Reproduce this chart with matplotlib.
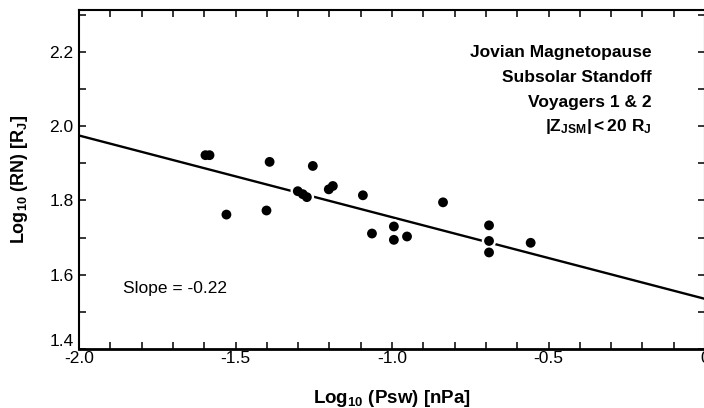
import matplotlib
matplotlib.use("Agg")
import matplotlib.pyplot as plt
from matplotlib.ticker import MultipleLocator, FixedLocator
import numpy as np

# ---- data ----
log_psw = [-1.596, -1.583, -1.529, -1.391, -1.401, -1.253, -1.301, -1.285, -1.272,
           -1.202, -1.189, -1.093, -1.064, -0.994, -0.994, -0.952, -0.837,
           -0.690, -0.690, -0.690, -0.557]
log_rn = [1.922, 1.922, 1.762, 1.904, 1.773, 1.893, 1.825, 1.817, 1.809,
          1.830, 1.839, 1.814, 1.711, 1.730, 1.694, 1.703, 1.795,
          1.733, 1.691, 1.660, 1.686]
fit_slope = -0.22
fit_intercept = 1.535
x_ticks = [-2.0, -1.5, -1.0, -0.5, 0.0]
x_ticklabels = ["-2.0", "-1.5", "-1.0", "-0.5", "0"]
y_ticks = [1.4, 1.6, 1.8, 2.0, 2.2]
y_ticklabels = ["1.4", "1.6", "1.8", "2.0", "2.2"]
title_lines = ["Jovian Magnetopause", "Subsolar Standoff", "Voyagers 1 & 2",
               r"$\mathbf{|Z_{JSM}|< 20\ R_J}$"]
slope_text = "Slope = -0.22"

plt.rcParams['font.family'] = ['Liberation Sans', 'DejaVu Sans']
plt.rcParams['mathtext.fontset'] = 'custom'
plt.rcParams['mathtext.rm'] = 'Liberation Sans'
plt.rcParams['mathtext.it'] = 'Liberation Sans'
plt.rcParams['mathtext.bf'] = 'Liberation Sans:bold'

fig = plt.figure(figsize=(7.04, 4.08), dpi=100)
ax = fig.add_axes([79/704, 59/408, (705-79)/704, (349-10)/408])

xmin, xmax = -2.0, 0.0
ax.set_xlim(xmin, xmax)
ax.set_ylim(1.4, 2.313)

xs = np.array([xmin, xmax])
ax.plot(xs, fit_intercept + fit_slope * xs, color='black', lw=1.7, zorder=2,
        solid_capstyle='butt')
# white halo behind the dots (as in the original drawing)
ax.scatter(log_psw, log_rn, s=110, color='white', edgecolors='none', zorder=3)
ax.scatter(log_psw, log_rn, s=50, color='black', edgecolors='none', zorder=4)

ax.xaxis.set_major_locator(FixedLocator(x_ticks))
ax.set_xticklabels(x_ticklabels)
ax.xaxis.set_minor_locator(MultipleLocator(0.1))
ax.yaxis.set_major_locator(FixedLocator(y_ticks))
ax.set_yticklabels(y_ticklabels)
ax.yaxis.set_minor_locator(MultipleLocator(0.1))

ax.tick_params(which='both', direction='in', top=True, right=True,
               length=5, width=1.1, labelsize=12.5)
ax.tick_params(axis='x', pad=1.5)
ax.tick_params(axis='y', pad=4)
for s in ax.spines.values():
    s.set_linewidth(1.5)
ax.spines['bottom'].set_linewidth(2)

# the lowest y label sits slightly raised in the original
ax.get_yticklabels()[0].set_verticalalignment('bottom')

ax.set_xlabel(r"$\mathbf{Log_{10}\ (Psw)\ [nPa]}$", fontsize=13.5, labelpad=16)
ax.set_ylabel(r"$\mathbf{Log_{10}\ (RN)\ [R_J]}$", fontsize=13, labelpad=14)

ys = [53, 78, 103, 127]
for line, yp in zip(title_lines, ys):
    fig.text(652/704, 1 - yp/408, line, ha='right', va='center',
             fontsize=12.5, fontweight='bold')

fig.text(123/704, 1 - 289/408, slope_text, ha='left', va='center', fontsize=12.5)

fig.savefig("out.png", dpi=100)
